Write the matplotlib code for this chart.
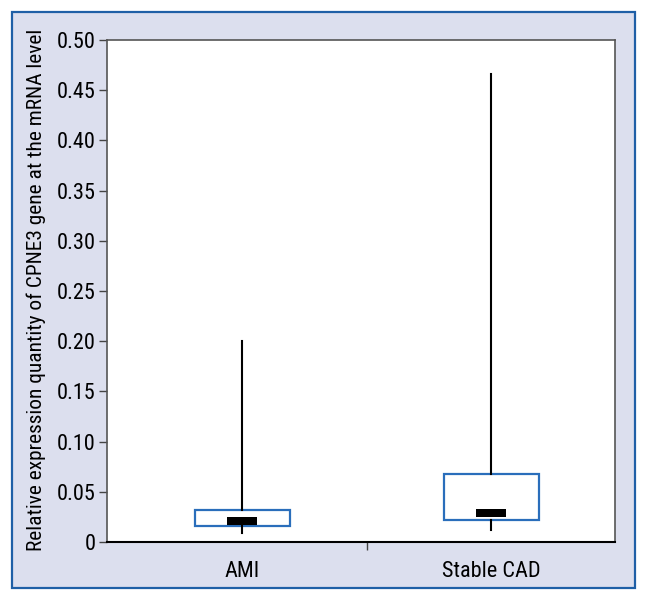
import matplotlib
matplotlib.use("Agg")
import matplotlib.pyplot as plt
from matplotlib.patches import Rectangle
from matplotlib import font_manager

# values (relative expression, mRNA level)
groups = ["AMI", "Stable CAD"]
medians = [0.021, 0.029]
q1 = [0.016, 0.022]
q3 = [0.032, 0.068]
whis_lo = [0.009, 0.012]
whis_hi = [0.200, 0.466]

names = {f.name for f in font_manager.fontManager.ttflist}
fam = [f for f in ["Liberation Sans Narrow", "Roboto Condensed", "Liberation Sans", "DejaVu Sans"] if f in names]
plt.rcParams['font.family'] = fam

fig = plt.figure(figsize=(6.48, 6.01), dpi=100)
fig.patch.set_facecolor("white")

# outer lavender panel with blue frame
panel = Rectangle((12 / 648, 13 / 601), 623 / 648, 576 / 601, transform=fig.transFigure,
                  facecolor="#dcdfee", edgecolor="#1f5fa6", linewidth=1.6, zorder=-10)
fig.patches.append(panel)

ax = fig.add_axes([107 / 648, 59 / 601, 508 / 648, 502 / 601])
ax.set_facecolor("white")

stats = []
for i, g in enumerate(groups):
    stats.append(dict(label=g, med=medians[i], q1=q1[i], q3=q3[i],
                      whislo=whis_lo[i], whishi=whis_hi[i], fliers=[]))

pos = [1, 2]
ax.bxp(stats, positions=pos, widths=0.38, patch_artist=True, showcaps=False,
       boxprops=dict(facecolor="white", edgecolor="#2a6ebb", linewidth=1.6),
       whiskerprops=dict(color="black", linewidth=1.5),
       medianprops=dict(visible=False))

# thick black median marks
for p, m in zip(pos, medians):
    ax.bar(p, 0.008, bottom=m - 0.004, width=0.12, color="black", zorder=5)

ax.set_xlim(0.457, 2.497)
ax.set_ylim(0, 0.5)
yt = [0, 0.05, 0.10, 0.15, 0.20, 0.25, 0.30, 0.35, 0.40, 0.45, 0.50]
ax.set_yticks(yt, ["0"] + ["%.2f" % v for v in yt[1:]])
ax.set_xticks(pos, groups)
ax.set_xticks([1.5], minor=True)
ax.tick_params(axis="x", which="major", length=0, pad=14, labelsize=16)
ax.tick_params(axis="x", which="minor", length=6, width=1, color="#444444")
ax.tick_params(axis="y", length=6, width=1, color="#444444", pad=2, labelsize=16)

for s in ["left", "right", "top"]:
    ax.spines[s].set_color("#555555")
    ax.spines[s].set_linewidth(1.2)
ax.spines["bottom"].set_color("black")
ax.spines["bottom"].set_linewidth(1.5)

fig.text(36 / 648, 0.517, "Relative expression quantity of CPNE3 gene at the mRNA level",
         rotation=90, ha="center", va="center", fontsize=15.4)

fig.savefig("out.png", dpi=100)
